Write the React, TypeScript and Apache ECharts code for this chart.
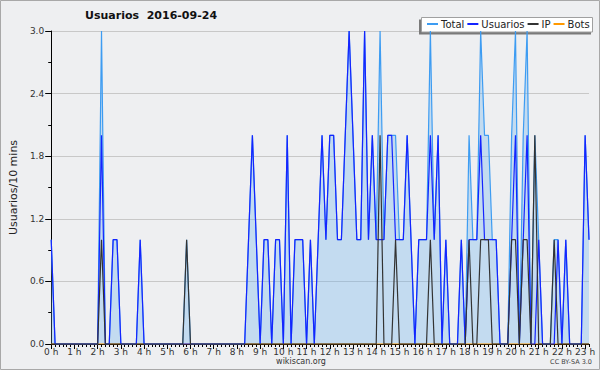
import React, { useEffect, useRef } from "react";
import * as echarts from "echarts";

// 10-minute slots shown on the chart (0:00 .. 23:10)
const slots: string[] = Array.from({ length: 140 }, (_, i) => `${Math.floor(i / 6)}:${String((i % 6) * 10).padStart(2, "0")}`);

const totalValues = [
  1, 0, 0, 0, 0, 0, 0, 0, 0, 0,
  0, 0, 0, 3, 0, 0, 1, 1, 0, 0,
  0, 0, 0, 1, 0, 0, 0, 0, 0, 0,
  0, 0, 0, 0, 0, 1, 0, 0, 0, 0,
  0, 0, 0, 0, 0, 0, 0, 0, 0, 0,
  0, 1, 2, 1, 0, 1, 1, 0, 1, 1,
  0, 2, 0, 1, 1, 1, 0, 1, 0, 1,
  2, 1, 2, 2, 1, 1, 2, 3, 2, 1,
  1, 3, 1, 2, 1, 3, 1, 2, 2, 2,
  1, 1, 2, 1, 0, 1, 1, 1, 3, 1,
  2, 0, 1, 0, 0, 0, 1, 0, 2, 1,
  1, 3, 2, 2, 1, 1, 0, 0, 0, 2,
  3, 0, 2, 3, 0, 2, 1, 0, 0, 0,
  1, 1, 0, 1, 0, 0, 0, 0, 2, 1,
];

const usuariosValues = [
  1, 0, 0, 0, 0, 0, 0, 0, 0, 0,
  0, 0, 0, 2, 0, 0, 1, 1, 0, 0,
  0, 0, 0, 1, 0, 0, 0, 0, 0, 0,
  0, 0, 0, 0, 0, 0, 0, 0, 0, 0,
  0, 0, 0, 0, 0, 0, 0, 0, 0, 0,
  0, 1, 2, 1, 0, 1, 1, 0, 1, 1,
  0, 2, 0, 1, 1, 1, 0, 1, 0, 1,
  2, 1, 2, 2, 1, 1, 2, 3, 2, 1,
  1, 3, 1, 2, 1, 1, 1, 2, 2, 1,
  1, 1, 2, 1, 0, 1, 1, 1, 2, 1,
  2, 0, 1, 0, 0, 0, 1, 0, 1, 1,
  1, 2, 1, 1, 1, 1, 0, 0, 0, 1,
  2, 0, 1, 2, 0, 0, 1, 0, 0, 0,
  0, 1, 0, 1, 0, 0, 0, 0, 2, 1,
];

const ipValues = [
  0, 0, 0, 0, 0, 0, 0, 0, 0, 0,
  0, 0, 0, 1, 0, 0, 0, 0, 0, 0,
  0, 0, 0, 0, 0, 0, 0, 0, 0, 0,
  0, 0, 0, 0, 0, 1, 0, 0, 0, 0,
  0, 0, 0, 0, 0, 0, 0, 0, 0, 0,
  0, 0, 0, 0, 0, 0, 0, 0, 0, 0,
  0, 0, 0, 0, 0, 0, 0, 0, 0, 0,
  0, 0, 0, 0, 0, 0, 0, 0, 0, 0,
  0, 0, 0, 0, 0, 2, 0, 0, 0, 1,
  0, 0, 0, 0, 0, 0, 0, 0, 1, 0,
  0, 0, 0, 0, 0, 0, 0, 0, 1, 0,
  0, 1, 1, 1, 0, 0, 0, 0, 0, 1,
  1, 0, 1, 1, 0, 2, 0, 0, 0, 0,
  1, 0, 0, 0, 0, 0, 0, 0, 0, 0,
];

const botsValues = new Array(140).fill(0);

const legendNames = ["Total", "Usuarios", "IP", "Bots"];
const yTicks = { min: 0, max: 3, interval: 0.6 };

const FONT = "DejaVu Sans";

export default function App() {
  const ref = useRef<HTMLDivElement>(null);
  useEffect(() => {
    if (!ref.current) return;
    const chart = echarts.init(ref.current, undefined, { renderer: "svg" });
    chart.setOption({
      animation: false,
      backgroundColor: "#eeeff1",
      textStyle: { fontFamily: FONT },
      title: {
        text: "Usuarios  2016-09-24",
        left: 85,
        top: 10,
        padding: 0,
        textStyle: { fontSize: 11, fontWeight: "bold", color: "#111", fontFamily: FONT },
      },
      legend: {
        data: legendNames,
        left: 427,
        top: 19,
        padding: 0,
        itemGap: 3,
        itemWidth: 11,
        itemHeight: 2,
        icon: "rect",
        textStyle: { fontSize: 10, color: "#222", fontFamily: FONT, padding: [0, 0, 0, -2] },
      },
      grid: { left: 46, right: 11, top: 31, bottom: 26 },
      xAxis: [
        {
          type: "category",
          data: slots,
          boundaryGap: false,
          axisLine: { lineStyle: { color: "#000", width: 1 } },
          axisTick: { interval: 5, length: 5, lineStyle: { color: "#000" } },
          axisLabel: {
            interval: 5,
            fontSize: 9,
            color: "#333",
            margin: 3,
            fontFamily: FONT,
            formatter: (v: string) => v.split(":")[0] + " h",
          },
          splitLine: { show: false },
        },
        {
          type: "category",
          data: slots,
          boundaryGap: false,
          position: "bottom",
          axisLine: { show: false },
          axisTick: { interval: 0, length: 3, lineStyle: { color: "#000" } },
          axisLabel: { show: false },
          splitLine: { show: false },
        },
      ],
      yAxis: {
        type: "value",
        min: yTicks.min,
        max: yTicks.max,
        interval: yTicks.interval,
        name: "Usuarios/10 mins",
        nameLocation: "middle",
        nameRotate: 90,
        nameGap: 31,
        nameTextStyle: { fontSize: 11, color: "#222", fontFamily: FONT },
        axisLine: { show: true, lineStyle: { color: "#000" } },
        axisTick: { show: true, length: 6, lineStyle: { color: "#000" } },
        minorTick: { show: true, splitNumber: 2, length: 3, lineStyle: { color: "#000" } },
        splitLine: { show: true, lineStyle: { color: "#c8c8c8", width: 1 } },
        axisLabel: {
          fontSize: 9,
          color: "#333",
          margin: 7,
          fontFamily: FONT,
          formatter: (v: number) => v.toFixed(1),
        },
      },
      series: [
        {
          name: "Bots",
          type: "line",
          data: botsValues,
          symbol: "none",
          lineStyle: { color: "#ff9900", width: 1.2 },
          itemStyle: { color: "#ff9900" },
        },
        {
          name: "Total",
          type: "line",
          data: totalValues,
          symbol: "none",
          lineStyle: { color: "#3d9cf2", width: 1.2 },
          itemStyle: { color: "#3d9cf2" },
          areaStyle: { color: "rgba(105,176,238,0.32)", opacity: 1 },
        },
        {
          name: "Usuarios",
          type: "line",
          data: usuariosValues,
          symbol: "none",
          lineStyle: { color: "#1424ff", width: 1.2 },
          itemStyle: { color: "#1424ff" },
        },
        {
          name: "IP",
          type: "line",
          data: ipValues,
          symbol: "none",
          lineStyle: { color: "#333333", width: 1.2 },
          itemStyle: { color: "#333333" },
        },
      ],
      graphic: [
        {
          type: "rect",
          z: 3,
          shape: { x: 0.5, y: 0.5, width: 599, height: 369 },
          style: { fill: "none", stroke: "#a8a8a8", lineWidth: 1 },
          silent: true,
        },
        {
          type: "rect",
          z: 3,
          shape: { x: 419, y: 19.5, width: 172, height: 15 },
          style: { fill: "#7a7a7a" },
          silent: true,
        },
        {
          type: "rect",
          z: 3,
          shape: { x: 421.5, y: 17.5, width: 171, height: 14.5 },
          style: { fill: "#ffffff", stroke: "#a0a0a0", lineWidth: 1 },
          silent: true,
        },
        {
          type: "text",
          z: 3,
          x: 301,
          y: 361,
          style: {
            text: "wikiscan.org",
            fontSize: 8,
            fontFamily: FONT,
            fill: "#333",
            align: "center",
            verticalAlign: "middle",
          },
        },
        {
          type: "text",
          z: 3,
          x: 592,
          y: 362,
          style: {
            text: "CC BY-SA 3.0",
            fontSize: 6.5,
            fontFamily: FONT,
            fill: "#444",
            align: "right",
            verticalAlign: "middle",
          },
        },
      ],
    });
    return () => chart.dispose();
  }, []);
  return (
    <div
      ref={ref}
      style={{ position: "absolute", left: 0, top: 0, width: 600, height: 370 }}
    />
  );
}
